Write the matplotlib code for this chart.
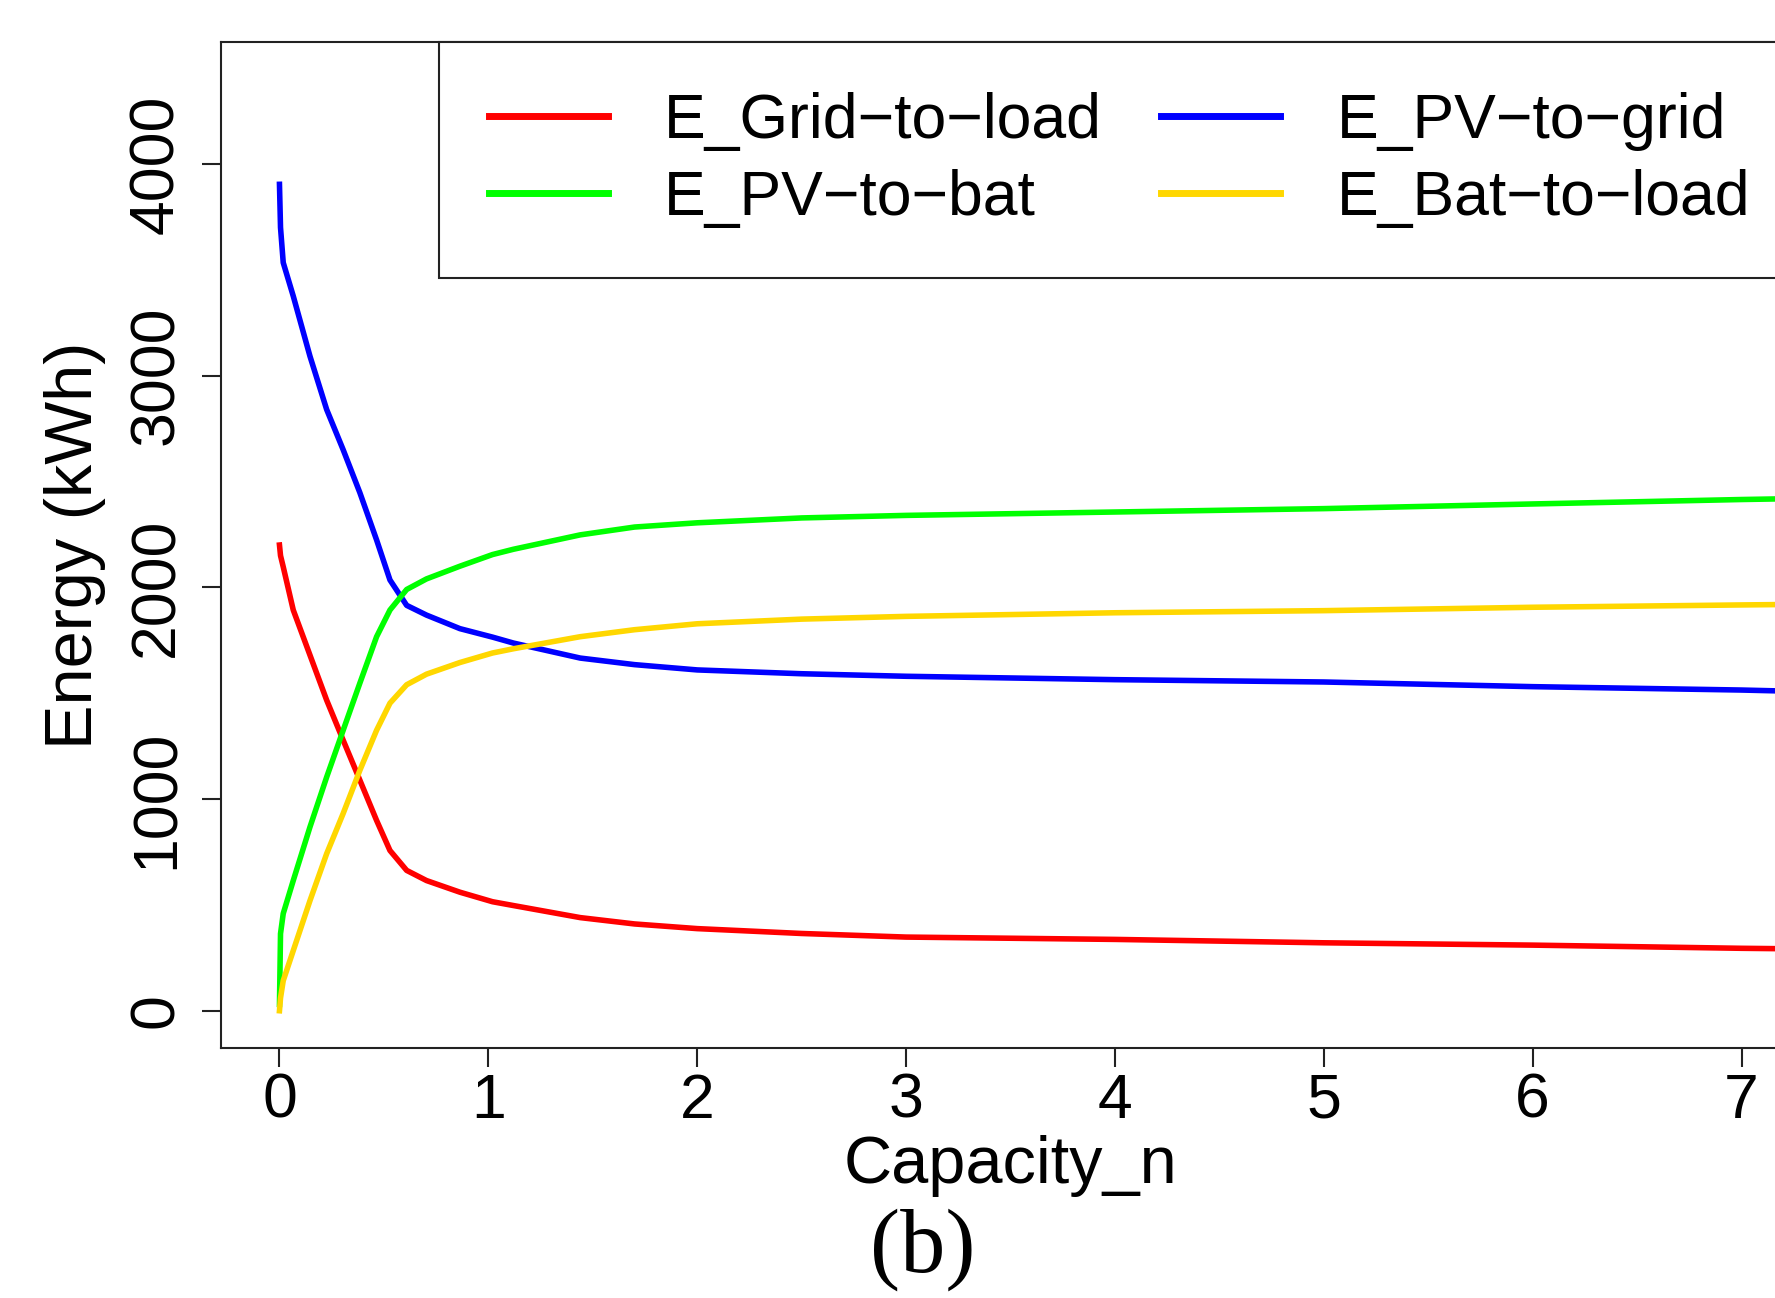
import matplotlib
matplotlib.use("Agg")
import matplotlib.pyplot as plt

# values
capacity = [0, 0.005, 0.018, 0.066, 0.146, 0.226, 0.305, 0.385, 0.465, 0.529,
            0.609, 0.704, 0.864, 1.02, 1.12, 1.44, 1.7, 2.0, 2.5, 3.0,
            4.0, 5.0, 6.0, 7.0, 7.3]
grid_to_load = [2200, 2150, 2097, 1893, 1680, 1467, 1278, 1089, 899, 757,
                663, 615, 560, 515, 497, 440, 410, 388, 365, 348,
                337, 321, 310, 295, 292]
pv_to_grid = [3904, 3700, 3534, 3376, 3092, 2840, 2650, 2447, 2224, 2035,
              1915, 1869, 1805, 1765, 1737, 1666, 1635, 1610, 1592, 1580,
              1564, 1553, 1531, 1515, 1508]
pv_to_bat = [30, 364, 459, 615, 868, 1104, 1325, 1548, 1767, 1893,
             1990, 2040, 2100, 2155, 2180, 2248, 2285, 2305, 2328, 2340,
             2356, 2372, 2394, 2415, 2420]
bat_to_load = [0, 60, 142, 284, 520, 742, 932, 1136, 1325, 1453,
               1540, 1590, 1645, 1690, 1710, 1767, 1800, 1828, 1850, 1863,
               1880, 1890, 1906, 1917, 1920]

x_ticks = [0, 1, 2, 3, 4, 5, 6, 7]
y_ticks = [0, 1000, 2000, 3000, 4000]

plt.rcParams['font.family'] = ['Liberation Sans', 'DejaVu Sans']

fig = plt.figure(figsize=(17.75, 12.98), dpi=100)
ax = fig.add_axes([0.1245, 0.1926, 0.8896, 0.775])

lw = 4.0
l_red, = ax.plot(capacity, grid_to_load, color='#FF0000', lw=lw)
l_blue, = ax.plot(capacity, pv_to_grid, color='#0000FF', lw=lw)
l_green, = ax.plot(capacity, pv_to_bat, color='#00FF00', lw=lw)
l_yel, = ax.plot(capacity, bat_to_load, color='#FFD700', lw=lw)

ax.set_xlim(-0.28, 7.28)
ax.set_ylim(-176, 4576)
ax.set_xticks(x_ticks)
ax.set_yticks(y_ticks)

for s in ax.spines.values():
    s.set_linewidth(1.5)
    s.set_color('#222222')

ax.tick_params(axis='both', direction='out', length=14, width=1.5,
               color='#222222', labelsize=45)
ax.tick_params(axis='x', pad=3)
ax.tick_params(axis='y', pad=11)
for lab in ax.get_yticklabels():
    lab.set_rotation(90)
    lab.set_va('center')
    lab.set_ha('right')

ax.set_xlabel('Capacity_n', fontsize=48, labelpad=3)
ax.set_ylabel('Energy (kWh)', fontsize=48, labelpad=15)

leg = ax.legend([l_red, l_green, l_blue, l_yel],
                ['E_Grid\u2212to\u2212load', 'E_PV\u2212to\u2212bat',
                 'E_PV\u2212to\u2212grid', 'E_Bat\u2212to\u2212load'],
                ncol=2, loc='upper right', bbox_to_anchor=(1, 1),
                borderaxespad=0, fontsize=45, handlelength=1.9,
                handletextpad=0.9, columnspacing=0.95, borderpad=0.8,
                labelspacing=0.28, fancybox=False, framealpha=1)
leg.get_frame().set_edgecolor('#222222')
leg.get_frame().set_linewidth(1.5)
for h in leg.get_lines():
    h.set_linewidth(5)

fig.text(0.52, 0.037, '(b)', fontsize=65, family='Liberation Serif',
         ha='center', va='center')

fig.savefig('out.png', dpi=100)
